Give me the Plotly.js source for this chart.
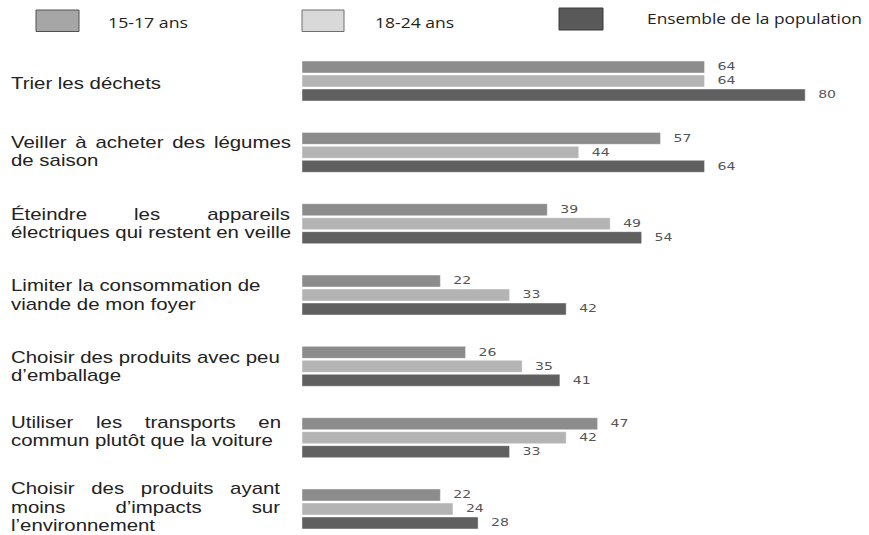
<!DOCTYPE html>
<html><head><meta charset="utf-8">
<script src="https://cdn.plot.ly/plotly-3.0.1.min.js"></script>
<style>html,body{margin:0;padding:0;background:#fff;} #chart{width:869px;height:535px;}</style>
</head><body><div id="chart"></div>
<script>
// ---------- data ----------
const categories = [
  "Trier les déchets",
  "Veiller à acheter des légumes de saison",
  "Éteindre les appareils électriques qui restent en veille",
  "Limiter la consommation de viande de mon foyer",
  "Choisir des produits avec peu d’emballage",
  "Utiliser les transports en commun plutôt que la voiture",
  "Choisir des produits ayant moins d’impacts sur l’environnement"
];
const categoryLines = [
  ["Trier les déchets"],
  ["Veiller à acheter des légumes", "de saison"],
  ["Éteindre les appareils", "électriques qui restent en veille"],
  ["Limiter la consommation de", "viande de mon foyer"],
  ["Choisir des produits avec peu", "d’emballage"],
  ["Utiliser les transports en", "commun plutôt que la voiture"],
  ["Choisir des produits ayant", "moins d’impacts sur", "l’environnement"]
];
const seriesNames = ["15-17 ans", "18-24 ans", "Ensemble de la population"];
const age1517 = [64, 57, 39, 22, 26, 47, 22];
const age1824 = [64, 44, 49, 33, 35, 42, 24];
const ensemble = [80, 64, 54, 42, 41, 33, 28];

// ---------- style / layout config ----------
const W = 869, H = 535, ML = 302, MT = 45;
const PW = W - ML, PH = H - MT;
const pxX = px => (px - ML) / PW;
const pxY = py => 1 - (py - MT) / PH;
const barColors = ["#8c8c8c", "#b4b4b4", "#606060"];
const legendFill = ["#a6a6a6", "#d9d9d9", "#595959"];
const legendLine = ["#505050", "#6e6e6e", "#3a3a3a"];
const legendBoxes = [[36, 79, 10, 31.5], [302, 344, 10, 31.5], [559, 603, 8, 30]];
const legendTextPos = [[109, 22, 80], [376, 22, 79], [648, 18, 215]];
const LINE = 18.5;
const labelNudge = [2, -1, 0, 0, 0, -6, -2];
const justifyRight = {"1-0": 291, "2-0": 290, "5-0": 281, "6-0": 280, "6-1": 280};
const LABEL_STRETCH = 1.2, VALUE_STRETCH = 1.39, VALUE_EXTRA_GAP = 10.5;

const seriesValues = [age1517, age1824, ensemble];
const traces = seriesValues.map((vals, s) => ({
  type: 'bar', orientation: 'h', name: seriesNames[s],
  y: categories, x: vals,
  marker: {color: barColors[s], line: {color: 'rgba(255,255,255,0.55)', width: 0.8}},
  text: vals.map(String), textposition: 'outside', cliponaxis: false,
  textfont: {family: 'DejaVu Sans, sans-serif', size: 11, color: '#555'},
  hoverinfo: 'x+name', showlegend: false
}));

const annotations = [], annFx = [], shapes = [];
categoryLines.forEach((lines, i) => {
  const n = lines.length;
  lines.forEach((ln, k) => {
    annotations.push({
      xref: 'paper', yref: 'y', x: pxX(11), y: categories[i],
      xanchor: 'left', yanchor: 'middle', borderpad: 0, borderwidth: 0,
      yshift: ((n - 1) / 2 - k) * LINE - labelNudge[i],
      text: ln, showarrow: false, align: 'left',
      font: {family: 'Liberation Sans, Arial, sans-serif', size: 17, color: '#222'}
    });
    const key = i + '-' + k;
    annFx.push(justifyRight[key] ? {mode: 'justify', right: justifyRight[key]} : {mode: 'scale', f: LABEL_STRETCH});
  });
});
seriesNames.forEach((nm, s) => {
  const b = legendBoxes[s];
  shapes.push({type: 'rect', xref: 'paper', yref: 'paper',
    x0: pxX(b[0]), x1: pxX(b[1]), y0: pxY(b[3]), y1: pxY(b[2]),
    fillcolor: legendFill[s], line: {color: legendLine[s], width: 1}});
  const t = legendTextPos[s];
  annotations.push({xref: 'paper', yref: 'paper', x: pxX(t[0] - 3), y: pxY(t[1]),
    xanchor: 'left', yanchor: 'middle', text: nm, showarrow: false, align: 'left',
    font: {family: 'Open Sans, sans-serif', size: 14, color: '#222'}});
  annFx.push({mode: 'fixed', len: t[2]});
});

const layout = {
  width: W, height: H,
  margin: {l: ML, r: 0, t: MT, b: 0, pad: 0},
  paper_bgcolor: '#fff', plot_bgcolor: '#fff',
  barmode: 'group', bargap: 0.412, bargroupgap: 0.143,
  xaxis: {range: [0, PW / 6.29], visible: false, fixedrange: true},
  yaxis: {type: 'category', range: [6.3645, -0.505], visible: false, fixedrange: true},
  showlegend: false,
  annotations: annotations, shapes: shapes
};

Plotly.newPlot('chart', traces, layout, {displayModeBar: false, staticPlot: true}).then(() => {
  document.querySelectorAll('g.annotation').forEach(g => {
    const idx = +g.getAttribute('data-index');
    const fx = annFx[idx];
    const t = g.querySelector('text.annotation-text');
    if (!fx || !t) return;
    const nat = t.getComputedTextLength();
    let target;
    if (fx.mode === 'scale') target = nat * fx.f;
    else if (fx.mode === 'fixed') target = fx.len;
    else {
      const left = t.getBoundingClientRect().left;
      target = fx.right - left;
      const nSp = (t.textContent.match(/ /g) || []).length;
      if (nSp > 0) {
        const ws = (target / LABEL_STRETCH - nat) / nSp;
        t.style.wordSpacing = ws + 'px';
      }
    }
    t.setAttribute('textLength', target);
    t.setAttribute('lengthAdjust', 'spacingAndGlyphs');
  });
  document.querySelectorAll('text.bartext').forEach(t => {
    const bb = t.getBBox();
    const nat = t.getComputedTextLength();
    t.setAttribute('text-anchor', 'start');
    t.querySelectorAll('tspan').forEach(sp => sp.setAttribute('text-anchor', 'start'));
    const old = t.getAttribute('transform') || '';
    t.setAttribute('transform', 'translate(' + (bb.x + VALUE_EXTRA_GAP) + ',0) ' + old);
    t.setAttribute('textLength', nat * VALUE_STRETCH);
    t.setAttribute('lengthAdjust', 'spacingAndGlyphs');
  });
});
</script>
</body></html>
